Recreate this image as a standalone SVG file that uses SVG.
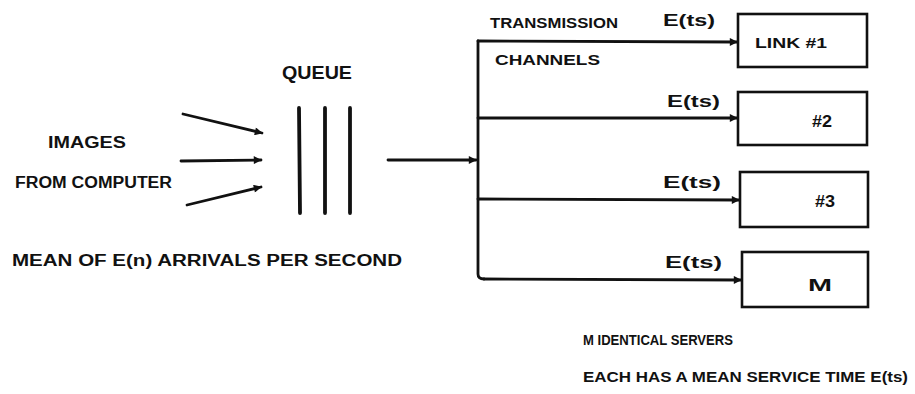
<svg xmlns="http://www.w3.org/2000/svg" width="915" height="394" viewBox="0 0 915 394">
<style>
text{font-family:"Liberation Sans",Arial,sans-serif;font-weight:bold;fill:#111;}
.t{font-size:16px;}
.s{font-size:15px;}
.line{stroke:#111;stroke-width:2.8;fill:none;stroke-linecap:round;}
.box{stroke:#111;stroke-width:2.6;fill:#fff;}
.q{stroke:#111;stroke-width:3.8;stroke-linecap:round;}
</style>
<defs>
<marker id="ah" viewBox="0 0 10 10" refX="9" refY="5" markerWidth="11" markerHeight="8" markerUnits="userSpaceOnUse" orient="auto">
<path d="M0,0 L10,5 L0,10 z" fill="#111"/>
</marker>
</defs>
<rect width="915" height="394" fill="#fff"/>

<g id="source">
<text class="t" x="48" y="148" textLength="78" lengthAdjust="spacingAndGlyphs">IMAGES</text>
<text class="t" x="15" y="188" textLength="157" lengthAdjust="spacingAndGlyphs">FROM COMPUTER</text>
</g>

<g id="arrivals-label">
<text class="t" x="12" y="266" textLength="390" lengthAdjust="spacingAndGlyphs">MEAN OF E(n) ARRIVALS PER SECOND</text>
</g>

<g id="queue">
<text x="282" y="79" font-size="18" textLength="70" lengthAdjust="spacingAndGlyphs">QUEUE</text>
<line class="q" x1="299" y1="108" x2="300" y2="213"/>
<line class="q" x1="325" y1="108" x2="325" y2="213"/>
<line class="q" x1="350" y1="108" x2="350" y2="213"/>
</g>

<g id="channels-label">
<text class="s" x="490" y="28" textLength="128" lengthAdjust="spacingAndGlyphs">TRANSMISSION</text>
<text class="s" x="495" y="65" textLength="105" lengthAdjust="spacingAndGlyphs">CHANNELS</text>
</g>

<g id="connectors">
<line class="line" x1="183" y1="114" x2="262" y2="133" marker-end="url(#ah)"/>
<line class="line" x1="181" y1="161" x2="261" y2="160" marker-end="url(#ah)"/>
<line class="line" x1="187" y1="205" x2="261" y2="187" marker-end="url(#ah)"/>
<line class="line" x1="388" y1="160" x2="476" y2="160" marker-end="url(#ah)"/>
<path class="line" d="M478,41 V274 Q478,279 484,279"/>
<line class="line" x1="478" y1="41" x2="737" y2="42" marker-end="url(#ah)"/>
<line class="line" x1="478" y1="118" x2="737" y2="118" marker-end="url(#ah)"/>
<line class="line" x1="478" y1="199" x2="739" y2="200" marker-end="url(#ah)"/>
<line class="line" x1="484" y1="279" x2="741" y2="280" marker-end="url(#ah)"/>
<text class="t" x="663" y="26" textLength="52" lengthAdjust="spacingAndGlyphs">E(ts)</text>
<text class="t" x="667" y="107" textLength="53" lengthAdjust="spacingAndGlyphs">E(ts)</text>
<text class="t" x="663" y="188" textLength="58" lengthAdjust="spacingAndGlyphs">E(ts)</text>
<text class="t" x="665" y="268" textLength="57" lengthAdjust="spacingAndGlyphs">E(ts)</text>
</g>

<g id="link1">
<rect class="box" x="738" y="14" width="129" height="53"/>
<text class="s" x="755" y="48" textLength="72" lengthAdjust="spacingAndGlyphs">LINK #1</text>
</g>
<g id="link2">
<rect class="box" x="738" y="92" width="129" height="53"/>
<text class="t" x="812" y="127" textLength="20" lengthAdjust="spacingAndGlyphs">#2</text>
</g>
<g id="link3">
<rect class="box" x="740" y="172" width="128" height="55"/>
<text class="t" x="815" y="207" textLength="20" lengthAdjust="spacingAndGlyphs">#3</text>
</g>
<g id="linkM">
<rect class="box" x="742" y="252" width="126" height="55"/>
<text class="t" x="808" y="291" textLength="24" lengthAdjust="spacingAndGlyphs">M</text>
</g>

<g id="servers-note">
<text class="s" x="583" y="345" textLength="150" lengthAdjust="spacingAndGlyphs">M IDENTICAL SERVERS</text>
<text class="s" x="583" y="382" textLength="325" lengthAdjust="spacingAndGlyphs">EACH HAS A MEAN SERVICE TIME E(ts)</text>
</g>
</svg>
